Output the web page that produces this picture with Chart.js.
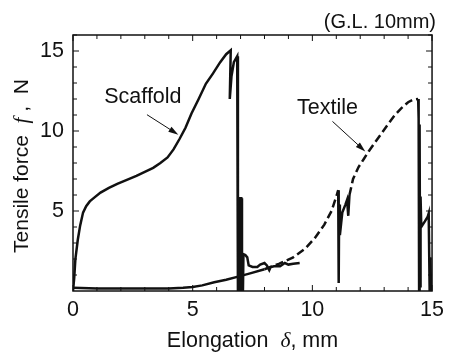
<!DOCTYPE html>
<html>
<head>
<meta charset="utf-8">
<script src="https://cdn.jsdelivr.net/npm/chart.js@4.4.0/dist/chart.umd.min.js"></script>
<style>
html, body { margin: 0; padding: 0; background: #fff; }
</style>
</head>
<body>
<canvas id="myChart" width="450" height="354"></canvas>
<script>
// tensile test curves
const scaffoldX = [0, 0.05, 0.1, 0.2, 0.3, 0.42, 0.55, 0.7, 0.9, 1.15, 1.5, 1.85, 2.25, 2.65, 3.0, 3.35, 3.65, 3.95, 4.2, 4.45, 4.7, 4.95, 5.25, 5.55, 5.85, 6.15, 6.4, 6.59, 6.55, 6.62, 6.72, 6.86, 6.89, 6.94, 6.96, 7.03, 7.06, 7.1, 7.12, 7.2, 7.28, 7.34, 7.5, 7.7, 7.82, 8.0, 8.1, 8.2, 8.26, 8.4, 8.65, 8.85, 9.0, 9.2, 9.47];
const scaffoldY = [0, 0.8, 2.0, 3.2, 4.1, 4.9, 5.3, 5.6, 5.85, 6.15, 6.45, 6.7, 6.95, 7.2, 7.45, 7.7, 8.0, 8.35, 8.85, 9.5, 10.2, 11.1, 12.0, 12.95, 13.6, 14.3, 14.8, 15.05, 12.0, 13.4, 14.3, 14.67, 0, 0, 5.8, 5.8, 0, 0, 2.3, 2.25, 2.1, 1.6, 1.5, 1.5, 1.65, 1.75, 1.6, 1.3, 1.5, 1.55, 1.55, 1.75, 1.65, 1.7, 1.75];

const textileX = [0, 1, 2, 3, 4, 4.6, 5.0, 5.4, 5.9, 6.4, 6.9, 7.4, 8.0, 8.6, 9.2, 9.7, 10.1, 10.5, 10.8, 11.0, 11.08, 11.1, 11.12, 11.15, 11.25, 11.38, 11.45, 11.5, 11.55, 11.7, 11.93, 12.15, 12.35, 12.6, 12.9, 13.2, 13.45, 13.7, 14.0, 14.2, 14.42, 14.44, 14.46, 14.48, 14.5, 14.52, 14.55, 14.7, 14.82, 14.86, 14.9, 14.93, 14.96];
const textileY = [0.2, 0.15, 0.15, 0.15, 0.15, 0.2, 0.25, 0.35, 0.55, 0.7, 0.9, 1.1, 1.36, 1.7, 2.1, 2.65, 3.3, 4.15, 5.0, 5.9, 6.3, 0.5, 5.4, 3.5, 4.9, 5.4, 5.7, 4.7, 6.0, 7.0, 7.75, 8.25, 8.72, 9.25, 9.87, 10.5, 11.0, 11.4, 11.8, 11.95, 12.0, 10.8, 0, 10.4, 0.3, 5.9, 4.0, 4.35, 4.65, 4.85, 0, 2.1, 0];

const xTicks = [0, 5, 10, 15];
const yTicks = [5, 10, 15];

const FONT = '"Liberation Sans", Arial, sans-serif';
const INK = '#111';

// text labels with arrows, in data units
const notes = [
    { text: 'Scaffold', x: 2.92, y: 12.09, from: [3.09, 11.02], to: [4.40, 9.77] },
    { text: 'Textile', x: 10.63, y: 11.46, from: [10.84, 10.6], to: [12.21, 8.72] }
];

function toPoints(xs, ys) {
    return xs.map((x, i) => ({ x: x, y: ys[i] }));
}

function textileDash(ctx) {
    const x0 = ctx.p0.parsed.x;
    if (x0 < 8.0) return undefined;
    if (x0 >= 11.08 && x0 < 11.55) return undefined;
    if (x0 >= 14.42) return undefined;
    return [8, 4];
}

function drawParts(ctx, parts, x, y, size) {
    let total = 0;
    parts.forEach(p => {
        ctx.font = p.i ? `italic ${size}px "Liberation Serif", serif` : `${size}px ${FONT}`;
        p.w = ctx.measureText(p.t).width;
        total += p.w;
    });
    let cx = x - total / 2;
    ctx.textAlign = 'left';
    ctx.textBaseline = 'middle';
    parts.forEach(p => {
        ctx.font = p.i ? `italic ${size}px "Liberation Serif", serif` : `${size}px ${FONT}`;
        ctx.fillText(p.t, cx, y);
        cx += p.w;
    });
}

const decor = {
    id: 'decor',
    afterDraw(chart) {
        const ctx = chart.ctx;
        const a = chart.chartArea;
        const xs = chart.scales.x, ys = chart.scales.y;
        ctx.save();
        ctx.strokeStyle = INK;
        ctx.fillStyle = INK;

        // frame
        ctx.lineWidth = 1.5;
        ctx.strokeRect(a.left, a.top, a.right - a.left, a.bottom - a.top);

        // inward ticks on all four sides
        ctx.lineWidth = 1;
        ctx.beginPath();
        for (let v = 0; v <= 15; v++) {
            const len = v % 5 === 0 ? 6 : 4;
            const px = xs.getPixelForValue(v);
            ctx.moveTo(px, a.bottom); ctx.lineTo(px, a.bottom - len);
            ctx.moveTo(px, a.top); ctx.lineTo(px, a.top + len);
        }
        for (let v = 1; v <= 16; v++) {
            const len = v % 5 === 0 ? 6 : 4;
            const py = ys.getPixelForValue(v);
            ctx.moveTo(a.left, py); ctx.lineTo(a.left + len, py);
            ctx.moveTo(a.right, py); ctx.lineTo(a.right - len, py);
        }
        ctx.stroke();

        // labels and arrows
        notes.forEach(n => {
            ctx.font = `21.5px ${FONT}`;
            ctx.textAlign = 'center';
            ctx.textBaseline = 'middle';
            ctx.fillText(n.text, xs.getPixelForValue(n.x), ys.getPixelForValue(n.y));
            const x0 = xs.getPixelForValue(n.from[0]), y0 = ys.getPixelForValue(n.from[1]);
            const x1 = xs.getPixelForValue(n.to[0]), y1 = ys.getPixelForValue(n.to[1]);
            const ang = Math.atan2(y1 - y0, x1 - x0);
            ctx.lineWidth = 1;
            ctx.beginPath();
            ctx.moveTo(x0, y0);
            ctx.lineTo(x1 - 8 * Math.cos(ang), y1 - 8 * Math.sin(ang));
            ctx.stroke();
            ctx.beginPath();
            ctx.moveTo(x1, y1);
            ctx.lineTo(x1 - 10 * Math.cos(ang) + 3 * Math.sin(ang), y1 - 10 * Math.sin(ang) - 3 * Math.cos(ang));
            ctx.lineTo(x1 - 10 * Math.cos(ang) - 3 * Math.sin(ang), y1 - 10 * Math.sin(ang) + 3 * Math.cos(ang));
            ctx.closePath();
            ctx.fill();
        });

        // gauge length note
        ctx.font = `20px ${FONT}`;
        ctx.textAlign = 'right';
        ctx.textBaseline = 'middle';
        ctx.fillText('(G.L. 10mm)', 436, 22);

        // axis titles
        drawParts(ctx, [{ t: 'Elongation  ' }, { t: 'δ', i: true }, { t: ', mm' }], (a.left + a.right) / 2, 341, 21.5);
        ctx.save();
        ctx.translate(22, 166);
        ctx.rotate(-Math.PI / 2);
        drawParts(ctx, [{ t: 'Tensile force  ' }, { t: 'f', i: true }, { t: ' ,  N' }], 0, 0, 21);
        ctx.restore();

        ctx.restore();
    }
};

const ctx = document.getElementById('myChart').getContext('2d');
new Chart(ctx, {
    type: 'scatter',
    data: {
        datasets: [
            {
                label: 'Scaffold',
                data: toPoints(scaffoldX, scaffoldY),
                showLine: true,
                borderColor: INK,
                borderWidth: 2.5,
                pointRadius: 0,
                tension: 0
            },
            {
                label: 'Textile',
                data: toPoints(textileX, textileY),
                showLine: true,
                borderColor: INK,
                borderWidth: 2.5,
                pointRadius: 0,
                tension: 0,
                segment: { borderDash: textileDash }
            }
        ]
    },
    options: {
        responsive: false,
        animation: false,
        layout: { padding: { top: 35, right: 12, left: 0, bottom: 0 } },
        plugins: { legend: { display: false }, tooltip: { enabled: false } },
        scales: {
            x: {
                type: 'linear',
                min: 0,
                max: 15,
                grid: { display: false, drawTicks: false },
                border: { display: false },
                afterFit(scale) { scale.height = 63; },
                afterBuildTicks(scale) { scale.ticks = xTicks.map(v => ({ value: v })); },
                ticks: { padding: 6, color: INK, font: { family: FONT, size: 21.5 } }
            },
            y: {
                type: 'linear',
                min: 0,
                max: 16,
                grid: { display: false, drawTicks: false },
                border: { display: false },
                afterFit(scale) { scale.width = 73; },
                afterBuildTicks(scale) { scale.ticks = yTicks.map(v => ({ value: v })); },
                ticks: { padding: 9, color: INK, font: { family: FONT, size: 21.5 } }
            }
        }
    },
    plugins: [decor]
});
</script>
</body>
</html>
